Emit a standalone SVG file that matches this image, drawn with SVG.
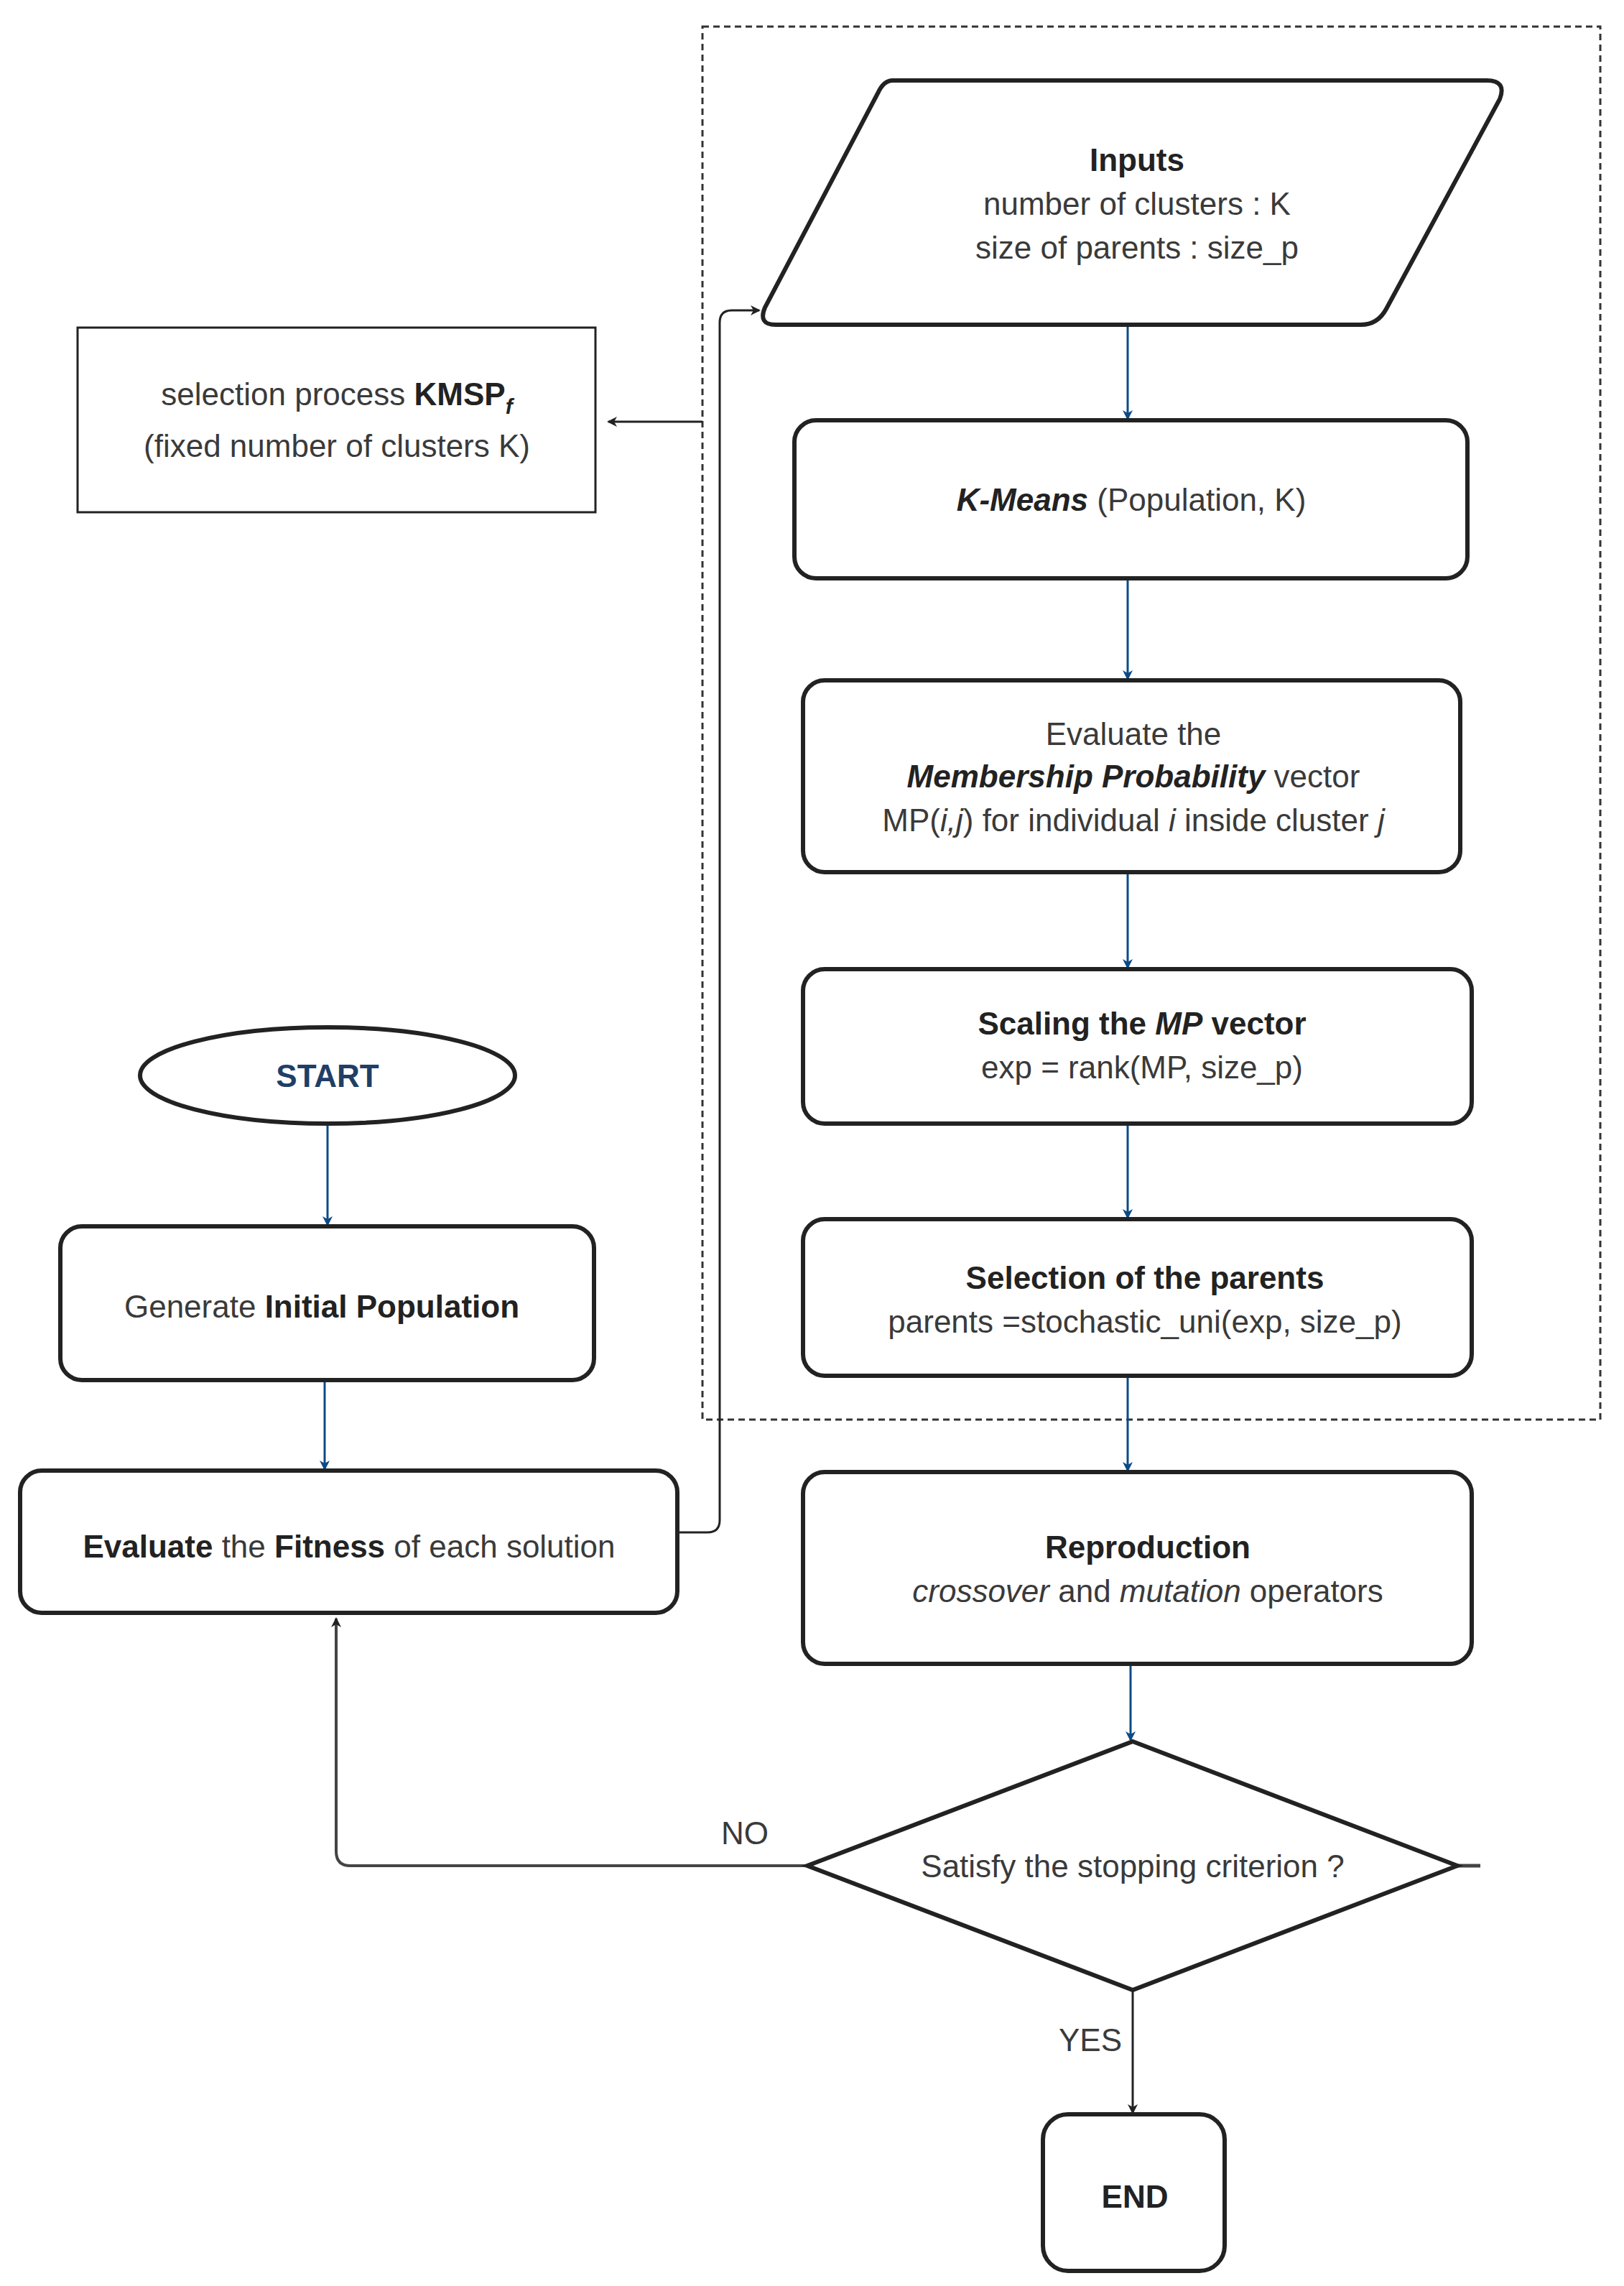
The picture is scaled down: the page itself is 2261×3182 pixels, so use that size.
<svg xmlns="http://www.w3.org/2000/svg" width="2261" height="3182" viewBox="0 0 2261 3182">
<style>
text{font-family:"Liberation Sans",Arial,sans-serif;font-size:44px;fill:#3a3a3a;text-anchor:middle}
.b{font-weight:bold;fill:#222}
.i{font-style:italic}
.box{fill:#fff;stroke:#222;stroke-width:6}
.blue{stroke:#0b4a86;stroke-width:3;fill:none}
.blk{stroke:#222;stroke-width:3;fill:none}
</style>
<defs>
<marker id="ab" markerWidth="14" markerHeight="14" refX="12" refY="7" orient="auto" markerUnits="userSpaceOnUse" viewBox="0 0 14 14"><path d="M0,0 L14,7 L0,14 L4,7Z" fill="#0b4a86"/></marker>
<marker id="ak" markerWidth="14" markerHeight="14" refX="12" refY="7" orient="auto" markerUnits="userSpaceOnUse" viewBox="0 0 14 14"><path d="M0,0 L14,7 L0,14 L4,7Z" fill="#222"/></marker>
</defs>
<rect width="2261" height="3182" fill="#fff"/>
<rect x="978" y="37" width="1250" height="1939" fill="none" stroke="#333" stroke-width="3" stroke-dasharray="9,6"/>
<g id="connectors">
<line class="blue" x1="1570" y1="452" x2="1570" y2="583" marker-end="url(#ab)"/>
<line class="blue" x1="1570" y1="805" x2="1570" y2="945" marker-end="url(#ab)"/>
<line class="blue" x1="1570" y1="1214" x2="1570" y2="1347" marker-end="url(#ab)"/>
<line class="blue" x1="1570" y1="1564" x2="1570" y2="1695" marker-end="url(#ab)"/>
<line class="blue" x1="1570" y1="1915" x2="1570" y2="2047" marker-end="url(#ab)"/>
<line class="blue" x1="1574" y1="2316" x2="1574" y2="2422" marker-end="url(#ab)"/>
<line class="blue" x1="456" y1="1564" x2="456" y2="1705" marker-end="url(#ab)"/>
<line class="blue" x1="452" y1="1921" x2="452" y2="2045" marker-end="url(#ab)"/>
<line class="blk" x1="978" y1="587" x2="847" y2="587" marker-end="url(#ak)"/>
<path class="blk" d="M943,2133 H985 Q1002,2133 1002,2116 V449 Q1002,432 1019,432 H1057" marker-end="url(#ak)"/>
<path d="M1124,2597 H488 Q468,2597 468,2577 V2253" stroke="#444" stroke-width="4" fill="none" marker-end="url(#ak)"/>
<line class="blk" x1="1577" y1="2770" x2="1577" y2="2941" marker-end="url(#ak)"/>
<line x1="2029" y1="2597" x2="2061" y2="2597" stroke="#444" stroke-width="5"/>
<text x="1037" y="2567" font-size="38" fill="#222">NO</text>
<text x="1518" y="2855" font-size="38" fill="#222">YES</text>
</g>
<g id="inputs">
<path class="box" d="M1243,112 H2070 Q2098,112 2088,138 L1930,430 Q1918,452 1895,452 H1080 Q1055,452 1065,428 L1222,130 Q1230,112 1243,112Z"/>
<text x="1583" y="238" class="b">Inputs</text>
<text x="1583" y="299">number of clusters : K</text>
<text x="1583" y="360">size of parents : size_p</text>
</g>
<g id="kmsp">
<rect x="108" y="456" width="721" height="257" fill="#fff" stroke="#222" stroke-width="3"/>
<text x="469" y="564">selection process <tspan class="b">KMSP<tspan class="i" font-size="30" dy="12">f</tspan></tspan></text>
<text x="469" y="636" font-size="26">(fixed number of clusters K)</text>
</g>
<g id="kmeans">
<rect class="box" x="1106" y="585" width="937" height="220" rx="30"/>
<text x="1575" y="711"><tspan class="b i">K-Means</tspan> (Population, K)</text>
</g>
<g id="evaluate">
<rect class="box" x="1118" y="947" width="915" height="267" rx="30"/>
<text x="1578" y="1037">Evaluate the</text>
<text x="1578" y="1096"><tspan class="b i">Membership Probability</tspan> vector</text>
<text x="1578" y="1157">MP(<tspan class="i">i,j</tspan>) for individual <tspan class="i">i</tspan> inside cluster <tspan class="i">j</tspan></text>
</g>
<g id="scaling">
<rect class="box" x="1118" y="1349" width="931" height="215" rx="30"/>
<text x="1590" y="1440" class="b">Scaling the <tspan class="i">MP</tspan> vector</text>
<text x="1590" y="1501">exp = rank(MP, size_p)</text>
</g>
<g id="selection">
<rect class="box" x="1118" y="1697" width="931" height="218" rx="30"/>
<text x="1594" y="1794" class="b">Selection of the parents</text>
<text x="1594" y="1855">parents =stochastic_uni(exp, size_p)</text>
</g>
<g id="reproduction">
<rect class="box" x="1118" y="2049" width="931" height="267" rx="30"/>
<text x="1598" y="2169" class="b">Reproduction</text>
<text x="1598" y="2230"><tspan class="i">crossover</tspan> and <tspan class="i">mutation</tspan> operators</text>
</g>
<g id="decision">
<polygon class="box" points="1577,2424 2029,2597 1577,2770 1124,2597"/>
<text x="1577" y="2613">Satisfy the stopping criterion ?</text>
</g>
<g id="end">
<rect class="box" x="1452" y="2943" width="253" height="218" rx="35"/>
<text x="1580" y="3073" class="b">END</text>
</g>
<g id="start">
<ellipse class="box" cx="456" cy="1497" rx="261" ry="67"/>
<text x="456" y="1513" class="b" style="fill:#1f3f66">START</text>
</g>
<g id="generate">
<rect class="box" x="84" y="1707" width="743" height="214" rx="30"/>
<text x="448" y="1834">Generate <tspan class="b">Initial Population</tspan></text>
</g>
<g id="fitness">
<rect class="box" x="28" y="2047" width="915" height="198" rx="30"/>
<text x="486" y="2168"><tspan class="b">Evaluate</tspan> the <tspan class="b">Fitness</tspan> of each solution</text>
</g>
</svg>
